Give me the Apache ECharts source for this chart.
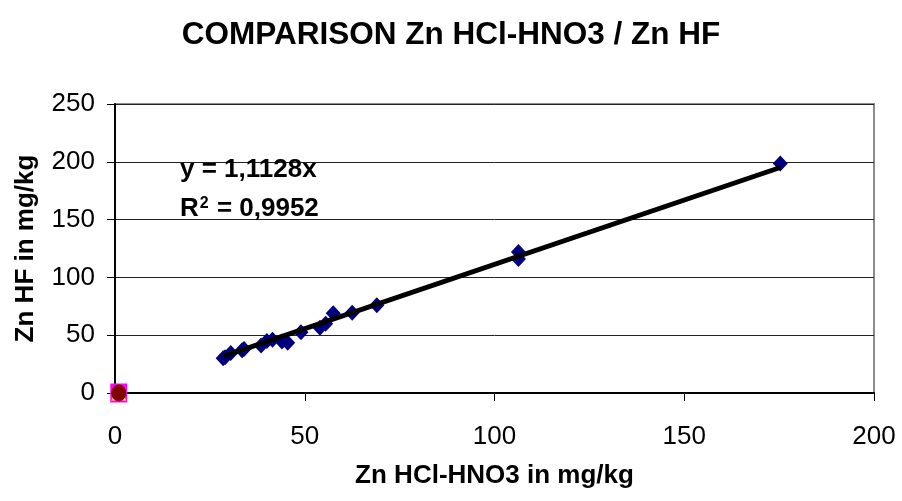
<!DOCTYPE html>
<html>
<head>
<meta charset="utf-8">
<script src="https://cdn.jsdelivr.net/npm/echarts@6/dist/echarts.min.js"></script>
<style>
  html, body { margin: 0; padding: 0; background: #fff; }
  #chart { width: 902px; height: 501px; }
</style>
</head>
<body>
<div id="chart"></div>
<script>
// Zn by aqua regia digestion (HCl-HNO3) vs. Zn by total HF digestion, mg/kg
const znAquaRegia = [28.5, 29, 30.5, 33.5, 34, 38.5, 40, 41.5, 44, 45.5, 49, 54, 55.5, 57.5, 62.5, 69, 106.3, 106.3, 175.3];
const znHF        = [30, 31, 34.5, 37, 38, 41, 45, 46, 44.5, 43.5, 52.5, 56.5, 60, 69, 69.5, 76, 122, 116, 198.5];

// blank / reference samples sitting at the origin
const blankSquare   = [[1, 0]];
const blankTriangle = [[1, 0]];
const blankCircle   = [[1, 0]];

// linear fit through the origin
const trendSlope = 1.1128;
const trendR2 = '0,9952';

const xTicks = { min: 0, max: 200, interval: 50 };
const yTicks = { min: 0, max: 250, interval: 50 };

const points = znAquaRegia.map((x, i) => [x, znHF[i]]);
const xLo = Math.min(...znAquaRegia);
const xHi = Math.max(...znAquaRegia);
const trend = [[xLo, trendSlope * xLo], [xHi, trendSlope * xHi]];

const FONT = 'Liberation Sans, Arial, sans-serif';

const chart = echarts.init(document.getElementById('chart'), null, { renderer: 'canvas' });
chart.setOption({
  backgroundColor: '#fff',
  animation: false,
  title: {
    text: 'COMPARISON Zn HCl-HNO3 / Zn HF',
    left: 'center',
    top: 14,
    textStyle: { fontFamily: FONT, fontSize: 31.5, fontWeight: 'bold', color: '#000' }
  },
  grid: {
    left: 115, right: 28, top: 104, bottom: 108,
    show: true, borderColor: '#8c8c8c', borderWidth: 2, backgroundColor: '#fff'
  },
  xAxis: {
    type: 'value',
    min: xTicks.min, max: xTicks.max, interval: xTicks.interval,
    name: 'Zn HCl-HNO3 in mg/kg',
    nameLocation: 'middle',
    nameGap: 70,
    nameTextStyle: { fontFamily: FONT, fontSize: 26, fontWeight: 'bold', color: '#000' },
    axisLine: { show: true, onZero: false, lineStyle: { color: '#000', width: 2 } },
    axisTick: { show: true, inside: false, length: 8, lineStyle: { color: '#000', width: 1 } },
    axisLabel: { fontFamily: FONT, fontSize: 26, color: '#000', margin: 31 },
    splitLine: { show: false }
  },
  yAxis: {
    type: 'value',
    min: yTicks.min, max: yTicks.max, interval: yTicks.interval,
    name: 'Zn HF in mg/kg',
    nameLocation: 'middle',
    nameGap: 76,
    nameTextStyle: { fontFamily: FONT, fontSize: 26, fontWeight: 'bold', color: '#000' },
    axisLine: { show: true, onZero: false, lineStyle: { color: '#000', width: 2 } },
    axisTick: { show: true, inside: false, length: 8, lineStyle: { color: '#000', width: 1 } },
    axisLabel: { fontFamily: FONT, fontSize: 26, color: '#000', margin: 20 },
    splitLine: { show: true, lineStyle: { color: '#222', width: 1 } }
  },
  series: [
    {
      name: 'Zn',
      type: 'scatter',
      data: points,
      symbol: 'diamond',
      symbolSize: [15, 16],
      itemStyle: { color: '#000080', opacity: 1 },
      z: 3
    },
    {
      name: 'Trend',
      type: 'line',
      data: trend,
      symbol: 'none',
      lineStyle: { color: '#000', width: 5 },
      z: 4
    },
    {
      name: 'blank A',
      type: 'scatter',
      data: blankSquare,
      symbol: 'rect',
      symbolSize: [17, 19],
      itemStyle: { color: '#ff00ff', opacity: 1 },
      z: 5
    },
    {
      name: 'blank B',
      type: 'scatter',
      data: blankTriangle,
      symbol: 'triangle',
      symbolSize: 15,
      itemStyle: { color: '#ffff00', opacity: 1 },
      z: 6
    },
    {
      name: 'blank C',
      type: 'scatter',
      data: blankCircle,
      symbol: 'circle',
      symbolSize: [15, 17],
      itemStyle: { color: '#800000', opacity: 1 },
      z: 7
    }
  ],
  graphic: [
    {
      type: 'text',
      left: 180, top: 157,
      style: {
        text: 'y = ' + String(trendSlope).replace('.', ',') + 'x',
        fontFamily: FONT, fontSize: 26, fontWeight: 'bold', fill: '#000'
      },
      z: 10
    },
    {
      type: 'text',
      left: 180, top: 196,
      style: {
        text: '{b|R}{s|2}{b| = ' + trendR2 + '}',
        rich: {
          b: { fontFamily: FONT, fontSize: 26, fontWeight: 'bold', fill: '#000', color: '#000', verticalAlign: 'bottom' },
          s: { fontFamily: FONT, fontSize: 16, fontWeight: 'bold', fill: '#000', color: '#000', verticalAlign: 'top', padding: [0, 1, 0, 1] }
        }
      },
      z: 10
    }
  ]
});
</script>
</body>
</html>
